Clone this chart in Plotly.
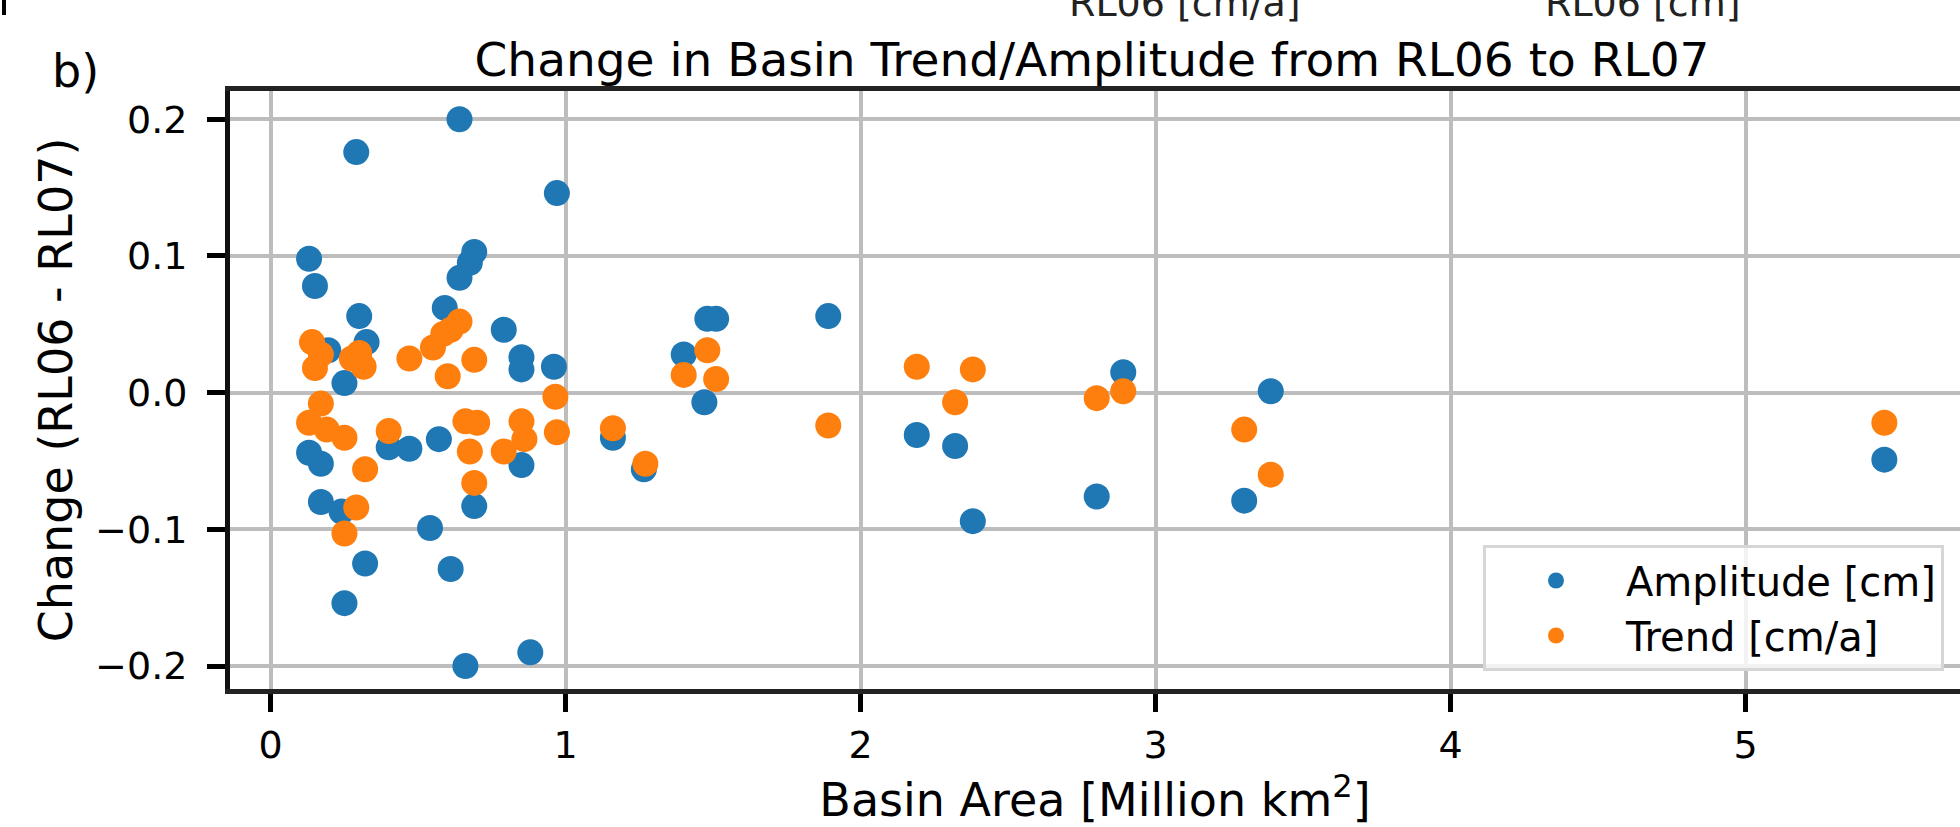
import plotly.graph_objects as go

# ---------------- data ----------------
amp_area = [0.64, 0.29, 0.97, 0.13, 0.15, 0.69, 0.675, 0.64, 0.59, 0.30,
            0.325, 0.79, 0.85, 0.85, 0.96, 0.25, 0.195, 1.48, 1.51, 1.40,
            1.47, 1.16, 1.265, 0.13, 0.17, 0.40, 0.47, 0.57, 0.85, 0.69,
            0.17, 0.24, 0.54, 0.32, 0.61, 0.25, 0.66, 0.88, 1.89, 2.19,
            2.32, 2.38, 2.89, 2.80, 3.39, 3.30, 5.47]
amp_change = [0.200, 0.176, 0.146, 0.098, 0.078, 0.103, 0.095, 0.084, 0.062, 0.056,
              0.037, 0.046, 0.026, 0.017, 0.019, 0.007, 0.031, 0.054, 0.054, 0.028,
              -0.007, -0.033, -0.056, -0.044, -0.052, -0.040, -0.041, -0.034, -0.053, -0.083,
              -0.080, -0.087, -0.099, -0.125, -0.129, -0.154, -0.200, -0.190, 0.056, -0.031,
              -0.039, -0.094, 0.015, -0.076, 0.001, -0.079, -0.049]

trend_area = [0.14, 0.15, 0.17, 0.275, 0.30, 0.315, 0.47, 0.55, 0.585, 0.64,
              0.61, 0.60, 0.69, 0.965, 0.17, 0.13, 0.19, 0.25, 0.40, 0.32,
              0.29, 0.25, 0.66, 0.70, 0.675, 0.69, 0.85, 0.79, 0.86, 0.97,
              1.16, 1.27, 1.40, 1.48, 1.51, 1.89, 2.19, 2.38, 2.32, 2.89,
              2.80, 3.30, 3.39, 5.47]
trend_change = [0.037, 0.018, 0.028, 0.025, 0.029, 0.019, 0.025, 0.033, 0.043, 0.052,
                0.046, 0.012, 0.024, -0.003, -0.008, -0.022, -0.027, -0.033, -0.028, -0.056,
                -0.084, -0.103, -0.021, -0.022, -0.043, -0.066, -0.021, -0.043, -0.034, -0.029,
                -0.026, -0.052, 0.013, 0.031, 0.010, -0.024, 0.019, 0.017, -0.007, 0.001,
                -0.004, -0.027, -0.060, -0.022]

x_ticks = [0, 1, 2, 3, 4, 5]
x_tick_labels = ["0", "1", "2", "3", "4", "5"]
y_ticks = [-0.2, -0.1, 0.0, 0.1, 0.2]
y_tick_labels = ["\u22120.2", "\u22120.1", "0.0", "0.1", "0.2"]

series_names = ["Amplitude [cm]", "Trend [cm/a]"]
series_colors = ["#1f77b4", "#ff7f0e"]

title_text = "Change in Basin Trend/Amplitude from RL06 to RL07"
x_title = "Basin Area [Million km<sup>2</sup>]"
y_title = "Change (RL06 - RL07)"
panel_label = "b)"
top_cut_labels = ["RL06 [cm/a]", "RL06 [cm]"]

# ---------------- figure ----------------
FONT = "DejaVu Sans"
W, H = 1960, 827
L, R, T, B = 230, 0, 91, 138

fig = go.Figure()
fig.add_trace(go.Scatter(x=amp_area, y=amp_change, mode="markers",
                         name=series_names[0],
                         marker=dict(color=series_colors[0], size=26, line=dict(width=0))))
fig.add_trace(go.Scatter(x=trend_area, y=trend_change, mode="markers",
                         name=series_names[1],
                         marker=dict(color=series_colors[1], size=26, line=dict(width=0))))

plot_h = H - T - B
plot_w = W - L - R


def py(page_y):
    return (H - B - page_y) / plot_h


def px(page_x):
    return (page_x - L) / plot_w


fig.update_layout(
    width=W, height=H,
    margin=dict(l=L, r=R, t=T, b=B, pad=0),
    paper_bgcolor="white", plot_bgcolor="white",
    font=dict(family=FONT, color="black", size=38),
    showlegend=True,
    legend=dict(
        x=px(1944), y=py(671), xanchor="right", yanchor="bottom",
        bgcolor="rgba(255,255,255,0.8)", bordercolor="#d6d6d6", borderwidth=3,
        font=dict(family=FONT, size=40, color="black"),
        itemwidth=130, tracegroupgap=0,
    ),
    title=dict(text=title_text, x=1092 / W, xanchor="center", xref="container",
               y=1 - 60 / H, yanchor="middle", yref="container",
               font=dict(family=FONT, size=47, color="black")),
)

fig.update_xaxes(
    range=[-0.138, (1960 - 270.7) / 295],
    tickmode="array", tickvals=x_ticks, ticktext=x_tick_labels,
    showgrid=True, gridcolor="#bdbdbd", gridwidth=4,
    zeroline=False,
    showline=True, linecolor="#222222", linewidth=5, mirror=True,
    ticks="outside", ticklen=18, tickwidth=5, tickcolor="black",
    tickfont=dict(family=FONT, size=38, color="black"),
    title=dict(text=x_title, font=dict(family=FONT, size=46, color="black"), standoff=27),
)
fig.update_yaxes(
    range=[-0.2168, 0.2207],
    tickmode="array", tickvals=y_ticks, ticktext=y_tick_labels,
    showgrid=True, gridcolor="#bdbdbd", gridwidth=4,
    zeroline=False,
    showline=True, linecolor="#111111", linewidth=5, mirror=False,
    ticks="outside", ticklen=18, tickwidth=5, tickcolor="black",
    tickfont=dict(family=FONT, size=38, color="black"),
    ticklabelstandoff=12,
    title=dict(text=y_title, font=dict(family=FONT, size=46, color="black"), standoff=10),
)

# panel label "b)"
fig.add_annotation(text=panel_label, xref="paper", yref="paper",
                   x=px(75), y=py(71), xanchor="center", yanchor="middle",
                   showarrow=False, font=dict(family=FONT, size=46, color="black"))

# labels of the panel above, cut off at the top edge
for lbl, cx in zip(top_cut_labels, [1185, 1643]):
    fig.add_annotation(text=lbl, xref="paper", yref="paper",
                       x=px(cx), y=py(3), xanchor="center", yanchor="middle",
                       showarrow=False, font=dict(family=FONT, size=38, color="#222222"))

# small black bar visible at the top-left corner
fig.add_shape(type="line", xref="paper", yref="paper",
              x0=px(4), x1=px(4), y0=py(0), y1=py(15),
              line=dict(color="black", width=4))

fig.write_html("out.html")
